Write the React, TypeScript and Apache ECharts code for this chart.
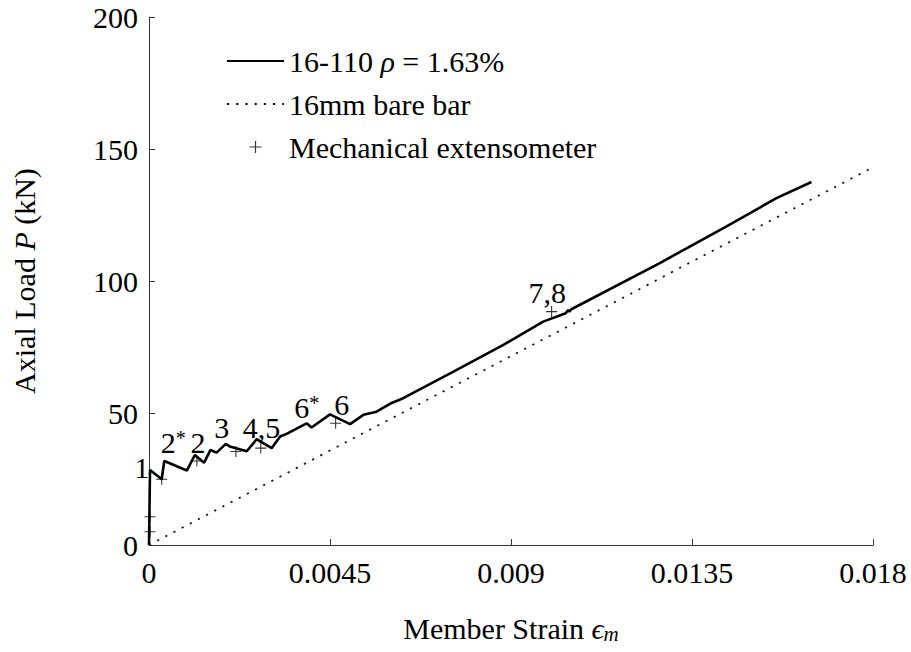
import React, { useEffect, useRef } from "react";
import * as echarts from "echarts";

// Load–strain response of specimen 16-110 (member strain, axial load in kN)
const memberStrain = [
  0, 0.000025, 0.000316, 0.00038, 0.00094, 0.00114, 0.00137, 0.00153, 0.00168,
  0.00191, 0.00201, 0.00243, 0.00268, 0.00284, 0.00305, 0.00326, 0.00342,
  0.00392, 0.00404, 0.0045, 0.005, 0.00533, 0.00566, 0.00599, 0.00632, 0.00757,
  0.00881, 0.0098, 0.01036, 0.01042, 0.01045, 0.0105, 0.0127, 0.01436, 0.0156,
  0.01647,
];
const axialLoad = [
  0, 28.4, 24.9, 31.8, 28.2, 34.1, 31.2, 36.0, 35.0, 38.3, 37.3, 35.5, 40.1,
  38.6, 36.7, 41.1, 42.1, 46.1, 44.5, 49.5, 45.8, 49.3, 50.5, 53.5, 55.6, 65.7,
  75.8, 84.6, 87.8, 89.0, 88.4, 89.3, 106.8, 120.7, 131.4, 137.5,
];

// Bare 16 mm reinforcing bar (elastic reference)
const bareStrain = [0, 0.0179];
const bareLoad = [0, 142.3];

// Mechanical extensometer readings
const extStrain = [0.000025, 0.000025, 0.000316, 0.00119, 0.00216, 0.00278, 0.00464, 0.01001];
const extLoad = [5.0, 10.7, 24.9, 31.8, 35.4, 36.7, 46.1, 88.4];

// Crack annotations
const noteText = ["1", "2{sup|*}", "2", "3", "4,5", "6{sup|*}", "6", "7,8"];
const noteStrain = [-0.00018, 0.0006, 0.00122, 0.00181, 0.0028, 0.00392, 0.00479, 0.0099];
const noteLoad = [29.2, 38.7, 38.7, 44.4, 44.4, 51.9, 53.1, 95.5];

const xTicks = [0, 0.0045, 0.009, 0.0135, 0.018];
const yTicks = [0, 50, 100, 150, 200];

const seriesNames = ["16-110 ρ = 1.63%", "16mm bare bar", "Mechanical extensometer"];

const FONT = "Liberation Serif";
const PLUS =
  "path://M4.5,0 h1 v4.5 h4.5 v1 h-4.5 v4.5 h-1 v-4.5 h-4.5 v-1 h4.5 z";

export default function App() {
  const ref = useRef<HTMLDivElement>(null);

  useEffect(() => {
    if (!ref.current) return;
    const chart = echarts.init(ref.current, undefined, { renderer: "svg" });
    const axisColor = "#333";
    const tickStep = xTicks[1] - xTicks[0];
    const yStep = yTicks[1] - yTicks[0];

    chart.setOption({
      animation: false,
      backgroundColor: "#fff",
      textStyle: { fontFamily: FONT },
      grid: { left: 149, right: 38, top: 17, bottom: 107, containLabel: false },
      legend: {
        data: [
          { name: seriesNames[0], itemStyle: { opacity: 0 } },
          { name: seriesNames[1], itemStyle: { opacity: 0 } },
          { name: seriesNames[2] },
        ],
        orient: "vertical",
        left: 221,
        top: 41,
        itemWidth: 57,
        itemHeight: 12,
        itemGap: 13,
        selectedMode: false,
        formatter: (name: string) => name.replace("ρ", "{i|ρ}"),
        textStyle: {
          fontFamily: FONT,
          fontSize: 30,
          lineHeight: 30,
          color: "#000",
          rich: {
            i: { fontFamily: FONT, fontSize: 30, lineHeight: 30, fontStyle: "italic", color: "#000" },
          },
        },
      },
      xAxis: {
        type: "value",
        min: xTicks[0],
        max: xTicks[xTicks.length - 1],
        interval: tickStep,
        name: "Member Strain {i|ϵ}{sub|m}",
        nameLocation: "middle",
        nameGap: 68,
        nameTextStyle: {
          fontFamily: FONT,
          fontSize: 30,
          color: "#000",
          rich: {
            i: { fontFamily: FONT, fontSize: 30, fontStyle: "italic", color: "#000" },
            sub: {
              fontFamily: FONT,
              fontSize: 21,
              fontStyle: "italic",
              color: "#000",
              padding: [10, 0, 0, 0],
            },
          },
        },
        axisLine: { lineStyle: { color: axisColor, width: 1 } },
        axisTick: { inside: true, length: 6, lineStyle: { color: axisColor } },
        axisLabel: {
          margin: 12,
          fontFamily: FONT,
          fontSize: 30,
          color: "#000",
          formatter: (v: number) => String(parseFloat(v.toFixed(4))),
        },
        splitLine: { show: false },
      },
      yAxis: {
        type: "value",
        min: yTicks[0],
        max: yTicks[yTicks.length - 1],
        interval: yStep,
        name: "Axial Load {i|P} (kN)",
        nameLocation: "middle",
        nameRotate: 90,
        nameGap: 110,
        nameTextStyle: {
          fontFamily: FONT,
          fontSize: 30,
          color: "#000",
          rich: {
            i: { fontFamily: FONT, fontSize: 30, fontStyle: "italic", color: "#000" },
          },
        },
        axisLine: { show: true, lineStyle: { color: axisColor, width: 1 } },
        axisTick: { show: true, inside: true, length: 6, lineStyle: { color: axisColor } },
        axisLabel: { margin: 11, fontFamily: FONT, fontSize: 30, color: "#000" },
        splitLine: { show: false },
      },
      series: [
        {
          name: seriesNames[0],
          type: "line",
          data: memberStrain.map((s, i) => [s, axialLoad[i]]),
          symbol: "none",
          showSymbol: false,
          lineStyle: { color: "#000", width: 2.6 },
          itemStyle: { color: "#000" },
          z: 4,
        },
        {
          name: seriesNames[1],
          type: "line",
          data: bareStrain.map((s, i) => [s, bareLoad[i]]),
          symbol: "none",
          showSymbol: false,
          lineStyle: { color: "#111", width: 1.7, type: [2.2, 7] },
          itemStyle: { color: "#111" },
          z: 3,
        },
        {
          name: seriesNames[2],
          type: "scatter",
          data: extStrain.map((s, i) => [s, extLoad[i]]),
          symbol: PLUS,
          symbolSize: 11,
          symbolKeepAspect: true,
          itemStyle: { color: "#000" },
          z: 5,
        },
        {
          name: "notes",
          type: "scatter",
          silent: true,
          clip: false,
          symbolSize: 1,
          itemStyle: { color: "#fff", opacity: 0 },
          data: noteStrain.map((s, i) => ({ value: [s, noteLoad[i]], name: noteText[i] })),
          label: {
            show: true,
            position: [0.5, 0.5],
            align: "center",
            verticalAlign: "middle",
            formatter: (p: any) => p.name,
            fontFamily: FONT,
            fontSize: 30,
            color: "#000",
            opacity: 1,
            rich: {
              sup: {
                fontFamily: FONT,
                fontSize: 20,
                color: "#000",
                padding: [0, 0, 10, 0],
              },
            },
          },
          z: 6,
        },
      ],
    });

    return () => chart.dispose();
  }, []);

  return (
    <div
      ref={ref}
      style={{ position: "fixed", left: 0, top: 0, width: 911, height: 652 }}
    />
  );
}
